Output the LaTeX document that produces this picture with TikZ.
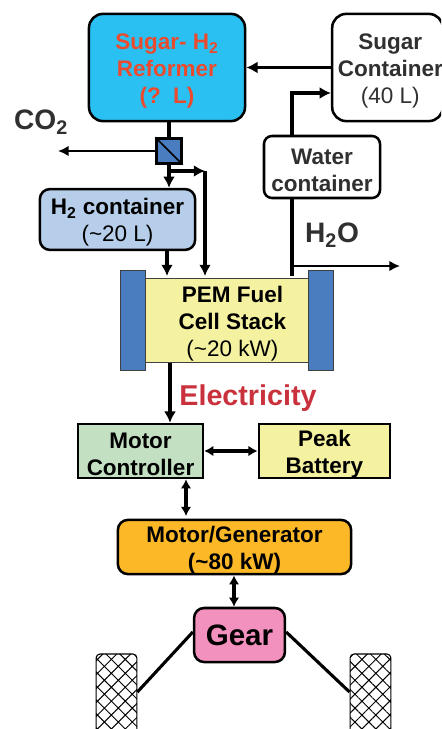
\documentclass[tikz,border=0pt]{standalone}
\usepackage{fontspec}
\setmainfont{Liberation Sans}
\usetikzlibrary{arrows.meta,patterns.meta}
\definecolor{reformerblue}{HTML}{2AC0F2}
\definecolor{reformerred}{HTML}{EA4B2F}
\definecolor{tankblue}{HTML}{B6CEE9}
\definecolor{plateblue}{HTML}{4A7DC0}
\definecolor{stackyellow}{HTML}{F4F1A0}
\definecolor{controlgreen}{HTML}{C3E0C3}
\definecolor{motororange}{HTML}{FDB827}
\definecolor{gearpink}{HTML}{F291BE}
\definecolor{elecred}{HTML}{C9323C}
\definecolor{darktext}{HTML}{303030}
\newcommand{\boxfont}{\fontsize{16}{19.2}\selectfont}
\newcommand{\toppad}{\rule{0pt}{16pt}}
\tikzset{
	unit/.style = {draw, line width = 1.8pt, inner sep = 0pt, align = center, font = \boxfont\bfseries},
	tank/.style = {unit, rounded corners = .35cm},
	plate/.style = {draw = black!75, line width = .7pt, fill = plateblue, minimum width = .62cm, minimum height = 2.48cm},
	wheel/.style = {draw, line width = .8pt, rounded corners = .1cm, minimum width = 1.02cm, minimum height = 2.6cm, pattern = {Hatch[angle = 45, distance = 7pt, line width = .7pt]}},
	plainflow/.style = {line width = 2.6pt},
	thickflow/.style = {plainflow, -{Latex[length = 8pt, width = 8.5pt]}},
	thinflow/.style = {line width = 1.6pt, -{Latex[length = 7.5pt, width = 7.5pt]}},
	twoway/.style = {line width = 2.3pt, {Latex[length = 6.5pt, width = 7.5pt]}-{Latex[length = 6.5pt, width = 7.5pt]}},
	axle/.style = {line width = 2.2pt},
	outlabel/.style = {inner sep = 0pt, font = \fontsize{20}{23}\selectfont\bfseries, text = darktext}
}
\begin{document}
\begin{tikzpicture}[x = .025cm, y = -.025cm]
	\useasboundingbox (0,0) rectangle (441,729);
	\clip (0,0) rectangle (441,729);
	\node [tank, fill = reformerblue, text = reformerred, minimum width = 3.9cm, minimum height = 2.68cm] (reformer) at (167,67.5) {\toppad Sugar- H\textsubscript{2}\\Reformer\\(?\ \ L)};
	\node [tank, fill = white, text = darktext, minimum width = 2.72cm, minimum height = 2.68cm] (sugar) at (387.5,67.5) {\toppad\hspace*{4pt}Sugar\\\hspace*{4pt}Container\\\hspace*{4pt}{\normalfont (40 L)}};
	\node [tank, fill = white, text = darktext, rounded corners = .2cm, minimum width = 2.9cm, minimum height = 1.55cm] (water) at (322,167) {\toppad Water\\container};
	\node [tank, fill = tankblue, text = black, rounded corners = .25cm, minimum width = 3.88cm, minimum height = 1.52cm] (hydrogen) at (117.5,219.5) {\toppad H\textsubscript{2} container\\{\normalfont (\textasciitilde 20 L)}};
	\node [draw, line width = 1.8pt, fill = plateblue, minimum size = .62cm, inner sep = 0pt] (membrane) at (169,151) {};
	\draw [line width = 1.2pt] (membrane.north west) -- (membrane.south east);
	\node [draw = black!75, line width = .8pt, fill = stackyellow, inner sep = 0pt, align = center, font = \boxfont\bfseries, minimum width = 4.08cm, minimum height = 2.12cm] (stack) at (227.5,320.5) {\toppad\hspace*{7pt}PEM Fuel\\\hspace*{7pt}Cell Stack\\\hspace*{7pt}{\normalfont (\textasciitilde 20 kW)}};
	\node [plate] (leftplate) at (133,320.5) {};
	\node [plate] (rightplate) at (321,320.5) {};
	\node [unit, fill = controlgreen, minimum width = 3.12cm, minimum height = 1.35cm] (controller) at (140.5,451) {\toppad Motor\\Controller};
	\node [unit, fill = stackyellow, minimum width = 3.28cm, minimum height = 1.35cm] (battery) at (324.5,451) {\toppad Peak\\Battery};
	\node [tank, fill = motororange, rounded corners = .25cm, minimum width = 5.83cm, minimum height = 1.35cm] (motor) at (234.5,547) {\toppad Motor/Generator\\(\textasciitilde 80 kW)};
	\node [tank, fill = gearpink, rounded corners = .25cm, minimum width = 2.27cm, minimum height = 1.35cm, font = \fontsize{21}{24}\selectfont\bfseries] (gear) at (239.5,635) {Gear};
	\node [wheel] (leftwheel) at (116.5,706) {};
	\node [wheel] (rightwheel) at (370.5,706) {};
	\node [outlabel] (cotwo) at (41,122) {CO\textsubscript{2}};
	\node [outlabel] (htwoo) at (332,235) {H\textsubscript{2}O};
	\node [inner sep = 0pt, text = elecred, font = \fontsize{20.4}{24}\selectfont\bfseries] (electricity) at (248,398) {Electricity};
	\coordinate (cotwoend) at (58,151);
	\coordinate (waterbend) at (292,93);
	\coordinate (waterout) at (292,266);
	\coordinate (waterend) at (400,266);
	\coordinate (splitstart) at (169,171);
	\coordinate (splitbend) at (205,171);
	\coordinate (stackhydrogen) at (167,276);
	\coordinate (stackdirect) at (205,276);
	\coordinate (stackwater) at (292,276);
	\draw [thickflow] (sugar.west) -- (reformer.east);
	\draw [plainflow] (reformer.south -| membrane) -- (membrane.north);
	\draw [thinflow] (membrane.west) -- (cotwoend);
	\draw [thickflow] (membrane.south) -- (membrane |- hydrogen.north);
	\draw [thickflow] (splitstart) -- (splitbend);
	\draw [thickflow] (splitbend) -- (stackdirect);
	\draw [thickflow] (stackhydrogen |- hydrogen.south) -- (stackhydrogen);
	\draw [plainflow] (stackwater) -- (stackwater |- water.south);
	\draw [thickflow] (waterbend |- water.north) -- (waterbend) -- (sugar.west |- waterbend);
	\draw [thinflow] (waterout) -- (waterend);
	\draw [thickflow] (170,0 |- stack.south) -- (170,0 |- controller.north);
	\draw [twoway] (controller.east) -- (battery.west);
	\draw [twoway] (186,0 |- controller.south) -- (186,516);
	\draw [twoway] (234,0 |- motor.south) -- (234,0 |- gear.north);
	\draw [axle] (gear.west |- 0,632) -- (leftwheel.east |- 0,692);
	\draw [axle] (gear.east |- 0,632) -- (rightwheel.west |- 0,692);
\end{tikzpicture}
\end{document}
